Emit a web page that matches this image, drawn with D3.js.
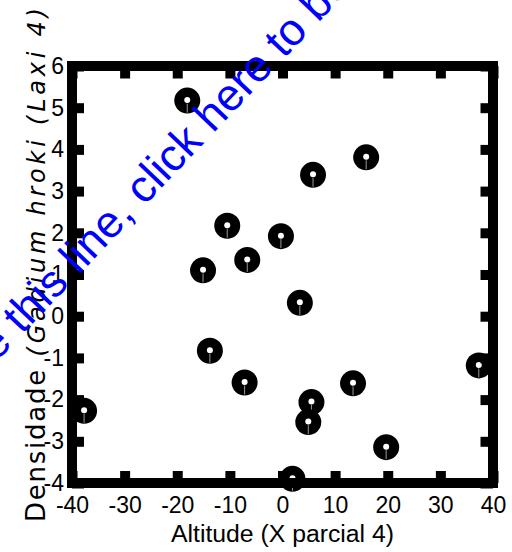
<!DOCTYPE html>
<html>
<head>
<meta charset="utf-8">
<script src="https://cdn.jsdelivr.net/npm/d3@7"></script>
<style>
  html, body { margin: 0; padding: 0; background: #fff; }
  svg { display: block; }
</style>
</head>
<body>
<svg id="chart" width="512" height="552"></svg>
<script>
// Sample measurements: altitude (x) against density (y)
const altitude = [-18.1, 15.9, 5.8, -10.5, -0.3, -6.7, -15.1, 3.3, -13.8, -7.2, 13.4, 37.3, 5.5, 4.9, 19.7, 1.9, -37.7];
const density  = [5.17, 3.81, 3.39, 2.17, 1.92, 1.35, 1.10, 0.32, -0.83, -1.59, -1.61, -1.18, -2.06, -2.54, -3.14, -3.90, -2.27];

const xTicks = [-40, -30, -20, -10, 0, 10, 20, 30, 40];
const yTicks = [-4, -3, -2, -1, 0, 1, 2, 3, 4, 5, 6];

const xTitle = "Altitude (X parcial 4)";
const yTitleHead = "Densidade";
const yTitleTail = " (Gadium hroki (Laxi 4)";
const banner = "To remove this line, click here to buy Virtual PDF Printer";
const bannerLead = "To remove ";

const svg = d3.select("#chart");
const plotL = 72, plotR = 493, plotT = 66, plotB = 483;

const x = d3.scaleLinear().domain([-40, 40]).range([plotL, plotR]);
const y = d3.scaleLinear().domain([-4, 6]).range([plotB, plotT]);

const font = "Liberation Sans, Arial, Helvetica, sans-serif";
const fmt = d => String(d);

// Ring markers
const pts = svg.append("g").selectAll("g")
  .data(altitude.map((a, i) => ({a, d: density[i]})))
  .join("g")
  .attr("transform", p => `translate(${x(p.a)},${y(p.d)})`);
pts.append("circle").attr("r", 13).attr("fill", "#000");
pts.append("line").attr("x1", 0).attr("x2", 0).attr("y1", 3).attr("y2", 12)
  .attr("stroke", "#9a9a9a").attr("stroke-width", 1);
pts.append("circle").attr("r", 3).attr("cy", -0.5).attr("fill", "#fff");

// Axes with heavy inward ticks
function styleAxis(g) {
  g.select(".domain").remove();
  g.selectAll(".tick line").attr("stroke", "#000").attr("stroke-width", 10);
  g.selectAll("text").attr("font-family", font).attr("font-size", 23).attr("fill", "#000");
}

svg.append("g").attr("transform", `translate(0,${plotB})`)
  .call(d3.axisBottom(x).tickValues(xTicks).tickSize(-12).tickSizeOuter(0).tickPadding(14).tickFormat(fmt))
  .call(styleAxis);
svg.append("g").attr("transform", `translate(0,${plotT})`)
  .call(d3.axisTop(x).tickValues(xTicks).tickSize(-12.5).tickSizeOuter(0).tickFormat(""))
  .call(styleAxis);
svg.append("g").attr("transform", `translate(${plotL},0)`)
  .call(d3.axisLeft(y).tickValues(yTicks).tickSize(-12).tickSizeOuter(0).tickPadding(8).tickFormat(fmt))
  .call(styleAxis);
svg.append("g").attr("transform", `translate(${plotR},0)`)
  .call(d3.axisRight(y).tickValues(yTicks).tickSize(-12.5).tickSizeOuter(0).tickFormat(""))
  .call(styleAxis);

// Frame
svg.append("rect")
  .attr("x", plotL).attr("y", plotT)
  .attr("width", plotR - plotL).attr("height", plotB - plotT)
  .attr("fill", "none").attr("stroke", "#000").attr("stroke-width", 10)
  .attr("stroke-linejoin", "miter");

// Axis titles
svg.append("text")
  .attr("x", (plotL + plotR) / 2).attr("y", 542)
  .attr("text-anchor", "middle")
  .attr("font-family", font).attr("font-size", 23)
  .attr("textLength", 223).attr("lengthAdjust", "spacingAndGlyphs")
  .text(xTitle);

const yt = svg.append("text")
  .attr("transform", "translate(45,522) rotate(-90)")
  .attr("text-anchor", "start")
  .attr("textLength", 514).attr("lengthAdjust", "spacing")
  .attr("fill", "#000");
yt.append("tspan")
  .attr("font-family", "DejaVu Sans, sans-serif").attr("font-size", 26)
  .attr("letter-spacing", -2)
  .text(yTitleHead);
yt.append("tspan")
  .attr("font-family", "DejaVu Sans, sans-serif").attr("font-size", 24)
  .attr("font-weight", 200).attr("font-style", "italic")
  .text(yTitleTail);

// Diagonal banner line
const bg = svg.append("g").attr("transform", "translate(22,335) rotate(-46.5)");
const bt = bg.append("text")
  .attr("font-family", font).attr("font-size", 45)
  .attr("fill", "#0000ff")
  .text(banner);
const lead = bt.node().getSubStringLength(0, bannerLead.length);
bt.attr("x", -lead);
</script>
</body>
</html>
